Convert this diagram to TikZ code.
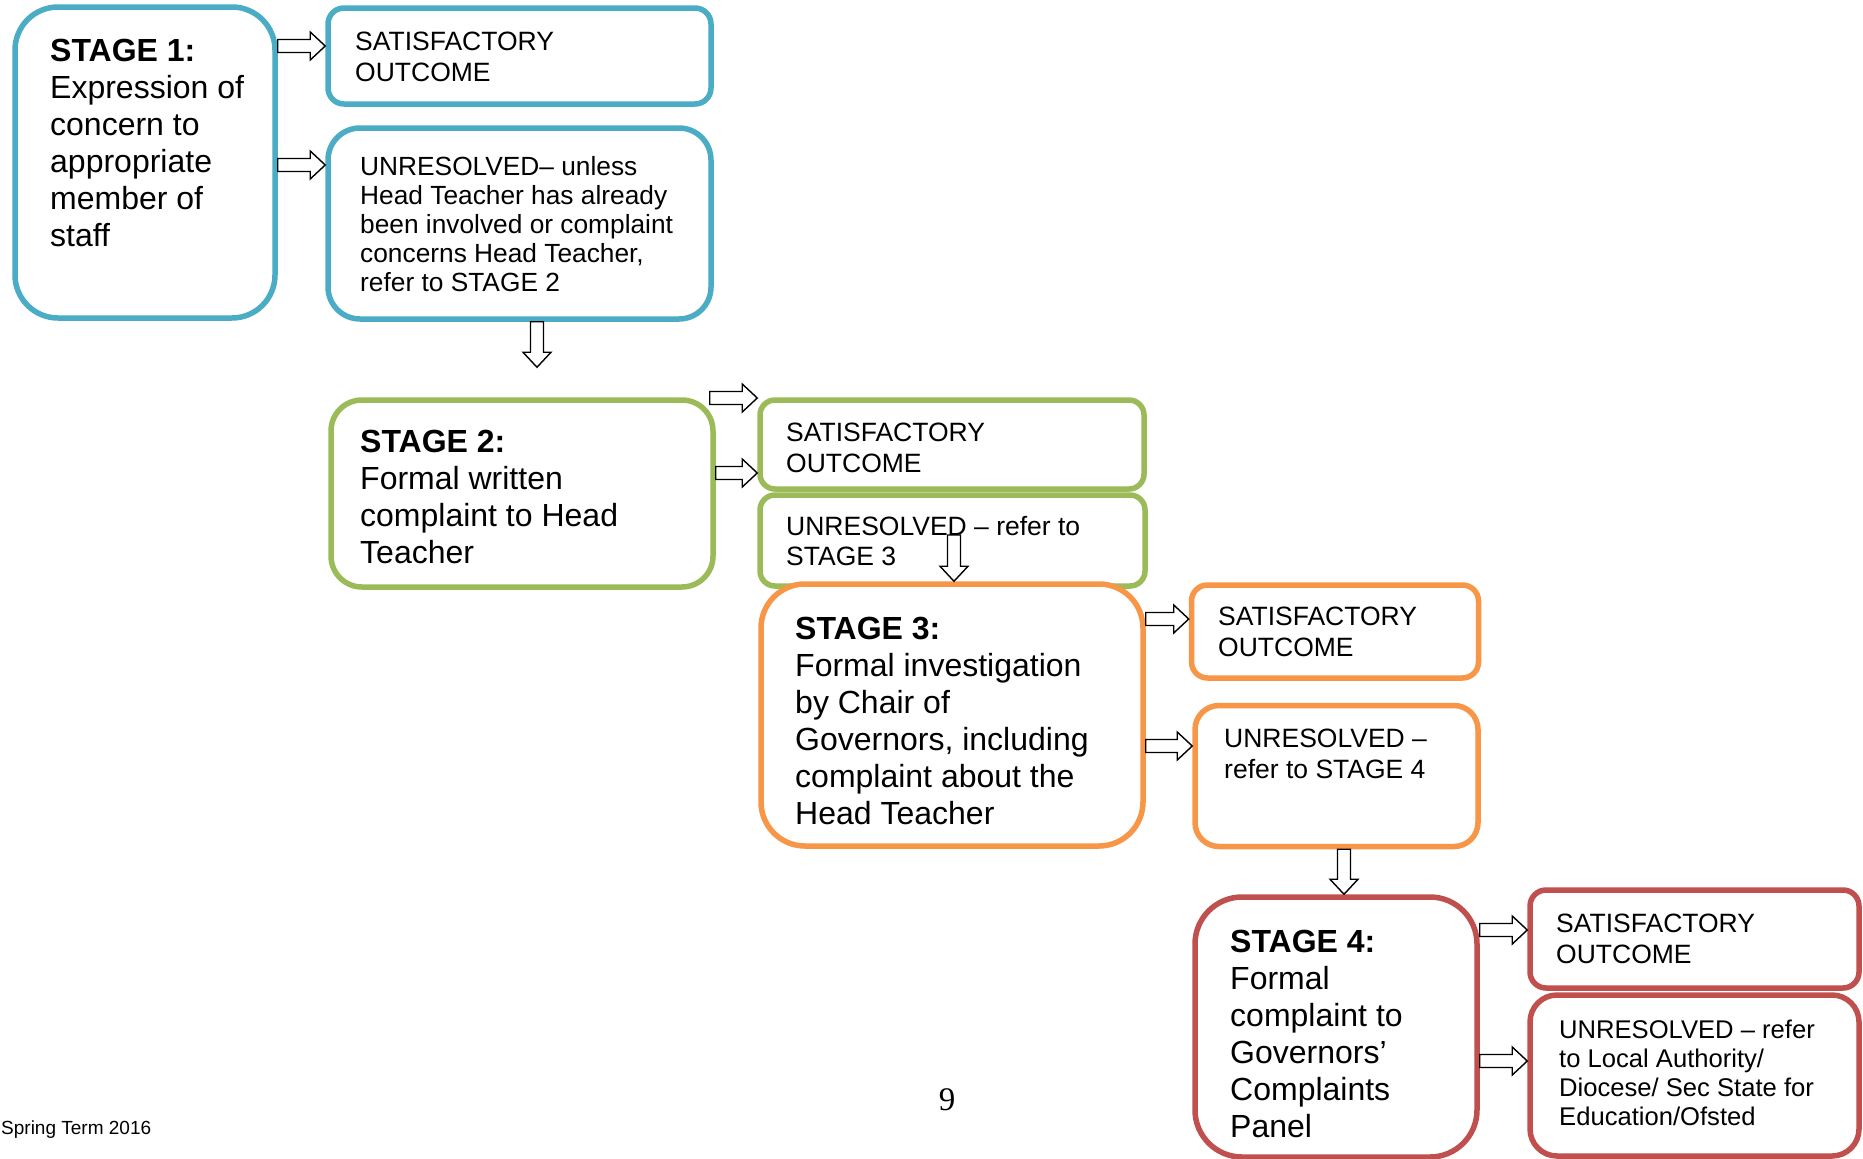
\documentclass[tikz,border=0pt]{standalone}
\usepackage{fontspec}
\setmainfont{Liberation Sans}
\newfontfamily\pagenumfont{Liberation Serif}
\usepackage{tikz}
\usetikzlibrary{calc}

\definecolor{AquaLine}{HTML}{4BACC6}
\definecolor{OliveLine}{HTML}{9BBB59}
\definecolor{OrangeLine}{HTML}{F79646}
\definecolor{RedLine}{HTML}{C0504D}

\begin{document}
\begin{tikzpicture}[x=1pt, y=-1pt]
	\tikzstyle{Box}		= [draw, fill=white, line width=5.5pt, inner sep=0pt]
	\tikzstyle{Blue}	= [draw=AquaLine]
	\tikzstyle{Green}	= [draw=OliveLine]
	\tikzstyle{Orange}	= [draw=OrangeLine]
	\tikzstyle{Red}		= [draw=RedLine]
	\tikzstyle{BigText}	= [anchor=north west, inner sep=0pt, align=left, font=\fontsize{32}{37}\selectfont]
	\tikzstyle{SmallText}	= [anchor=north west, inner sep=0pt, align=left, font=\fontsize{26.5}{30.5}\selectfont]
	\tikzstyle{MidText}	= [anchor=north west, inner sep=0pt, align=left, font=\fontsize{26.3}{29}\selectfont]
	\tikzstyle{BlockArrow}	= [draw=black, fill=white, line width=1.4pt, line join=miter,
		to path={($(\tikztostart)!6.5pt!90:(\tikztotarget)$)
			-- ($(\tikztotarget)!15pt!(\tikztostart)!6.5pt!-90:(\tikztostart)$)
			-- ($(\tikztotarget)!15pt!(\tikztostart)!14pt!-90:(\tikztostart)$)
			-- (\tikztotarget)
			-- ($(\tikztotarget)!15pt!(\tikztostart)!14pt!90:(\tikztostart)$)
			-- ($(\tikztotarget)!15pt!(\tikztostart)!6.5pt!90:(\tikztostart)$)
			-- ($(\tikztostart)!6.5pt!-90:(\tikztotarget)$) -- cycle}]

	\useasboundingbox (0,0) rectangle (1863,1159);

	% boxes
	\node (st1) at (145,162.5) [Box][Blue][minimum width=260pt, minimum height=311pt, rounded corners=43pt] {};
	\node (sat1) at (519.5,56) [Box][Blue][minimum width=383pt, minimum height=96pt, rounded corners=16pt] {};
	\node (un1) at (519.5,223.5) [Box][Blue][minimum width=383pt, minimum height=191pt, rounded corners=32pt] {};

	\node (st2) at (522,493.5) [Box][Green][minimum width=382pt, minimum height=187pt, rounded corners=31pt] {};
	\node (sat2) at (952,444.5) [Box][Green][minimum width=384pt, minimum height=89pt, rounded corners=15pt] {};
	\node (un2) at (952.5,540.5) [Box][Green][minimum width=385pt, minimum height=91pt, rounded corners=15pt] {};

	\node (st3) at (952,715) [Box][Orange][minimum width=382pt, minimum height=262pt, rounded corners=44pt] {};
	\node (sat3) at (1335,631.5) [Box][Orange][minimum width=287pt, minimum height=93pt, rounded corners=16pt] {};
	\node (un3) at (1336.5,776) [Box][Orange][minimum width=283pt, minimum height=141pt, rounded corners=24pt] {};

	\node (st4) at (1336,1027) [Box][Red][minimum width=282pt, minimum height=260pt, rounded corners=47pt] {};
	\node (sat4) at (1694.5,939) [Box][Red][minimum width=329pt, minimum height=98pt, rounded corners=16pt] {};
	\node (un4) at (1694.5,1075.5) [Box][Red][minimum width=329pt, minimum height=161pt, rounded corners=27pt] {};

	% arrows
	\draw [BlockArrow] ([yshift=116.5pt]st1.east) to ([yshift=10pt]sat1.west);
	\draw [BlockArrow] ([yshift=-2.5pt]st1.east) to ([yshift=58.5pt]un1.west);
	\draw [BlockArrow] ([xshift=17.5pt]un1.south) to ([xshift=15pt, yshift=30pt]st2.north);
	\draw [BlockArrow] ([xshift=-6pt, yshift=95.5pt]st2.east) to ([yshift=46.5pt]sat2.west);
	\draw [BlockArrow] ([yshift=20.5pt]st2.east) to ([yshift=-28.5pt]sat2.west);
	\draw [BlockArrow] ([xshift=1.5pt, yshift=5.5pt]un2.center) to ([xshift=2pt]st3.north);
	\draw [BlockArrow] ([yshift=96pt]st3.east) to ([yshift=12.5pt]sat3.west);
	\draw [BlockArrow] ([yshift=-31pt]st3.east) to ([yshift=30pt]un3.west);
	\draw [BlockArrow] ([xshift=7.5pt]un3.south) to ([xshift=8pt]st4.north);
	\draw [BlockArrow] ([yshift=97pt]st4.east) to ([yshift=9pt]sat4.west);
	\draw [BlockArrow] ([yshift=-34pt]st4.east) to ([yshift=14.5pt]un4.west);

	% texts
	\node (st1t) at (50,39) [BigText] {\textbf{STAGE 1:}\\Expression of\\concern to\\appropriate\\member of\\staff};
	\node (sat1t) at (355,32) [SmallText] {SATISFACTORY\\OUTCOME};
	\node (un1t) at (360,156) [MidText] {UNRESOLVED– unless\\Head Teacher has already\\been involved or complaint\\concerns Head Teacher,\\refer to STAGE 2};

	\node (st2t) at (360,430) [BigText] {\textbf{STAGE 2:}\\Formal written\\complaint to Head\\Teacher};
	\node (sat2t) at (786,423) [SmallText] {SATISFACTORY\\OUTCOME};
	\node (un2t) at (786,516) [SmallText] {UNRESOLVED – refer to\\STAGE 3};

	\node (st3t) at (795,617) [BigText] {\textbf{STAGE 3:}\\Formal investigation\\by Chair of\\Governors, including\\complaint about the\\Head Teacher};
	\node (sat3t) at (1218,607) [SmallText] {SATISFACTORY\\OUTCOME};
	\node (un3t) at (1224,729) [SmallText] {UNRESOLVED –\\refer to STAGE 4};

	\node (st4t) at (1230,930) [BigText] {\textbf{STAGE 4:}\\Formal\\complaint to\\Governors’\\Complaints\\Panel};
	\node (sat4t) at (1556,914) [SmallText] {SATISFACTORY\\OUTCOME};
	\node (un4t) at (1559,1020) [MidText, font=\fontsize{25.6}{29}\selectfont] {UNRESOLVED – refer\\to Local Authority/\\Diocese/ Sec State for\\Education/Ofsted};

	% footer
	\node (term) at (1,1134) [anchor=base west, inner sep=0pt, font=\fontsize{19}{22}\selectfont] {Spring Term 2016};
	\node (page) at (947,1110) [anchor=base, inner sep=0pt, font=\pagenumfont\fontsize{33}{38}\selectfont] {9};
\end{tikzpicture}
\end{document}
